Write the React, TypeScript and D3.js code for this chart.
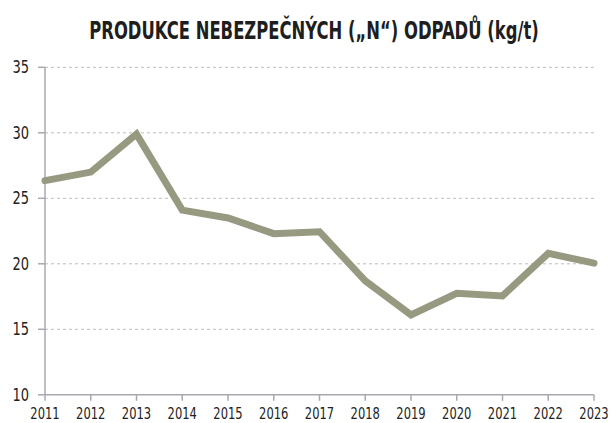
import React from "react";
import * as d3 from "d3";

const years = [2011, 2012, 2013, 2014, 2015, 2016, 2017, 2018, 2019, 2020, 2021, 2022, 2023];
const values = [26.35, 27.0, 29.9, 24.1, 23.5, 22.3, 22.45, 18.7, 16.1, 17.75, 17.55, 20.8, 20.05];
const yTicks = [10, 15, 20, 25, 30, 35];
const title = "PRODUKCE NEBEZPEČNÝCH („N“) ODPADŮ (kg/t)";

const W = 614;
const H = 423;
const left = 45;
const right = 594;
const top = 67.3;
const bottom = 394.8;

export default function App() {
  const x = d3.scaleLinear().domain([2011, 2023]).range([left, right]);
  const y = d3.scaleLinear().domain([10, 35]).range([bottom, top]);
  const line = d3
    .line<number>()
    .x((_, i) => x(years[i]))
    .y((d) => y(d));
  const axisColor = "#a8a8b0";
  const font = "'DejaVu Sans Condensed', sans-serif";
  return (
    <svg
      width={W}
      height={H}
      style={{ position: "absolute", left: 0, top: 0, display: "block", background: "#fff" }}
    >
      <text
        transform="translate(314,38.5) scale(0.73,1)"
        textAnchor="middle"
        fontFamily={font}
        fontWeight="bold"
        fontSize={25}
        fill="#1e1e1e"
      >
        {title}
      </text>
      {yTicks
        .filter((t) => t !== 10)
        .map((t) => (
          <line
            key={"g" + t}
            x1={left}
            x2={right}
            y1={y(t)}
            y2={y(t)}
            stroke="#bcbcbc"
            strokeWidth={1}
            strokeDasharray="3,3"
          />
        ))}
      <line x1={left} x2={left} y1={top} y2={bottom} stroke={axisColor} strokeWidth={1.5} />
      <line x1={left} x2={right} y1={bottom} y2={bottom} stroke={axisColor} strokeWidth={1.5} />
      {yTicks.map((t) => (
        <g key={"y" + t}>
          <line x1={left - 7} x2={left} y1={y(t)} y2={y(t)} stroke={axisColor} strokeWidth={1.5} />
          <text
            transform={`translate(29,${y(t) + 6}) scale(0.85,1)`}
            textAnchor="end"
            fontFamily={font}
            fontSize={17}
            fill="#222"
          >
            {t}
          </text>
        </g>
      ))}
      {years.map((yr) => (
        <g key={"x" + yr}>
          <line x1={x(yr)} x2={x(yr)} y1={bottom} y2={bottom + 6} stroke={axisColor} strokeWidth={1.5} />
          <text
            transform={`translate(${x(yr)},419) scale(0.8,1)`}
            textAnchor="middle"
            fontFamily={font}
            fontSize={16}
            fill="#222"
          >
            {yr}
          </text>
        </g>
      ))}
      <path
        d={line(values) || ""}
        fill="none"
        stroke="#979a80"
        strokeWidth={7}
        strokeLinejoin="miter"
        strokeLinecap="round"
      />
    </svg>
  );
}
